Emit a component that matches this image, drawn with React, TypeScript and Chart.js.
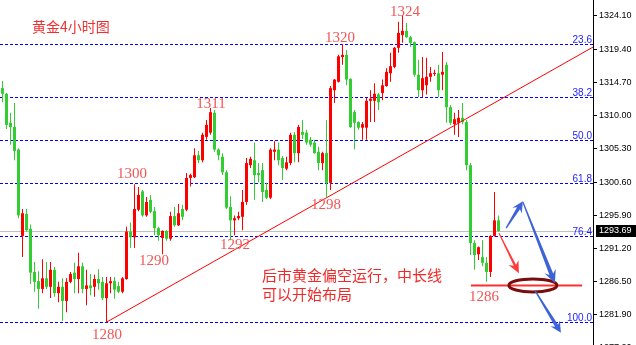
import React, { useEffect, useRef } from "react";
import { Chart, registerables } from "chart.js";

Chart.register(...registerables);

// Gold, 4-hour candles (oldest first)
const opens = [
  1313.9, 1313.1, 1309.0, 1308.4, 1305.2, 1293.0, 1296.1, 1294.0, 1287.9, 1286.6,
  1285.5, 1287.0, 1285.8, 1288.2, 1284.9, 1285.8, 1283.8, 1286.5, 1287.8, 1286.9,
  1288.7, 1285.5, 1286.0, 1285.8, 1286.9, 1286.5, 1284.2, 1286.3, 1286.6, 1285.9,
  1285.1, 1286.9, 1293.6, 1292.8, 1296.7, 1299.3, 1295.9, 1298.1, 1296.5, 1294.1,
  1292.7, 1293.7, 1292.6, 1295.8, 1294.5, 1296.8, 1296.7, 1301.2, 1301.3, 1304.4,
  1303.7, 1307.0, 1307.6, 1310.4, 1305.2, 1304.2, 1302.0, 1297.1, 1295.2, 1295.5,
  1295.7, 1297.8, 1303.0, 1303.7, 1301.9, 1302.3, 1299.5, 1298.4, 1304.9, 1305.2,
  1304.0, 1302.5, 1303.3, 1307.3, 1304.7, 1307.7, 1307.6, 1306.6, 1306.2, 1304.9,
  1303.3, 1304.7, 1300.5, 1313.6, 1314.8, 1318.3, 1318.6, 1315.2, 1310.5, 1309.1,
  1308.3, 1308.3, 1312.1, 1312.1, 1313.0, 1313.2, 1314.2, 1316.0, 1316.9, 1319.6,
  1321.4, 1322.0, 1321.1, 1320.4, 1315.8, 1313.6, 1314.3, 1315.5, 1315.9, 1316.0,
  1315.8, 1317.2, 1311.2, 1308.8, 1309.0, 1309.7, 1309.1, 1303.0, 1292.0, 1290.4,
  1290.0, 1289.2, 1287.9, 1293.0, 1295.2,
];
const highs = [
  1314.9, 1313.2, 1310.4, 1311.8, 1305.4, 1296.8, 1296.8, 1294.6, 1289.3, 1288.0,
  1289.7, 1289.3, 1289.3, 1288.6, 1286.5, 1287.0, 1287.0, 1287.9, 1289.2, 1290.6,
  1289.2, 1288.2, 1287.6, 1287.5, 1288.3, 1287.2, 1287.2, 1287.2, 1287.2, 1286.5,
  1287.2, 1294.3, 1294.9, 1300.3, 1299.9, 1299.5, 1298.5, 1298.8, 1297.1, 1294.3,
  1293.8, 1293.8, 1296.4, 1297.1, 1297.5, 1297.4, 1301.9, 1301.8, 1305.4, 1305.0,
  1307.6, 1309.4, 1311.1, 1310.8, 1305.4, 1304.7, 1302.3, 1298.6, 1295.9, 1296.4,
  1299.5, 1304.0, 1304.2, 1306.2, 1303.3, 1303.3, 1300.5, 1305.4, 1306.4, 1306.2,
  1304.3, 1304.2, 1307.6, 1307.7, 1308.7, 1309.4, 1308.0, 1307.0, 1306.6, 1305.6,
  1304.9, 1309.4, 1314.2, 1315.2, 1318.6, 1320.1, 1319.3, 1315.3, 1310.8, 1309.2,
  1309.1, 1312.5, 1313.6, 1314.6, 1313.2, 1315.1, 1316.7, 1318.9, 1319.7, 1323.3,
  1324.2, 1323.1, 1321.3, 1320.5, 1317.9, 1318.3, 1318.2, 1316.9, 1316.5, 1317.2,
  1319.0, 1317.6, 1311.5, 1310.4, 1310.8, 1311.8, 1309.4, 1303.3, 1292.4, 1291.5,
  1292.4, 1290.0, 1293.1, 1299.2, 1295.9,
];
const lows = [
  1311.9, 1308.1, 1305.9, 1303.7, 1295.5, 1290.0, 1293.6, 1286.2, 1285.1, 1282.7,
  1284.9, 1285.5, 1284.2, 1284.4, 1283.6, 1281.0, 1282.2, 1286.3, 1284.9, 1284.9,
  1284.9, 1283.2, 1284.6, 1284.4, 1285.4, 1283.9, 1280.8, 1284.9, 1284.1, 1284.9,
  1284.9, 1286.8, 1291.3, 1291.3, 1296.5, 1295.7, 1295.7, 1296.2, 1293.1, 1292.3,
  1290.4, 1292.3, 1292.3, 1294.3, 1294.4, 1295.2, 1296.5, 1300.0, 1301.2, 1303.3,
  1303.4, 1306.6, 1307.3, 1304.9, 1303.7, 1301.6, 1296.8, 1292.4, 1293.1, 1295.2,
  1293.8, 1297.4, 1302.6, 1298.1, 1300.6, 1297.8, 1298.2, 1298.2, 1303.7, 1303.0,
  1300.9, 1302.3, 1303.0, 1303.4, 1303.4, 1306.7, 1305.9, 1305.6, 1304.6, 1302.3,
  1302.3, 1298.5, 1299.5, 1311.8, 1314.7, 1317.2, 1314.3, 1308.3, 1305.2, 1308.0,
  1306.6, 1306.6, 1309.1, 1309.1, 1310.8, 1312.2, 1314.1, 1314.8, 1316.7, 1318.9,
  1320.3, 1321.0, 1319.7, 1315.5, 1312.6, 1312.6, 1313.0, 1314.8, 1315.6, 1312.6,
  1313.6, 1309.0, 1308.7, 1307.3, 1307.0, 1308.8, 1302.3, 1290.3, 1288.2, 1289.6,
  1288.7, 1286.5, 1287.2, 1292.9, 1293.6,
];
const closes = [
  1313.1, 1308.7, 1308.4, 1305.0, 1295.9, 1296.2, 1293.8, 1287.8, 1286.5, 1285.5,
  1287.0, 1285.8, 1288.2, 1284.9, 1285.8, 1283.8, 1286.5, 1287.6, 1286.9, 1288.7,
  1285.5, 1286.0, 1285.6, 1286.9, 1286.3, 1284.2, 1286.3, 1286.6, 1285.4, 1285.1,
  1287.0, 1293.6, 1292.8, 1296.8, 1298.8, 1295.9, 1297.8, 1296.4, 1294.1, 1293.1,
  1293.7, 1292.6, 1295.8, 1294.5, 1296.2, 1295.7, 1301.2, 1301.6, 1304.4, 1303.7,
  1307.3, 1308.7, 1310.5, 1305.2, 1304.4, 1302.0, 1297.0, 1295.2, 1295.5, 1295.8,
  1297.8, 1303.3, 1303.9, 1301.6, 1301.6, 1299.2, 1298.4, 1305.2, 1305.2, 1303.7,
  1302.6, 1303.4, 1307.3, 1304.7, 1308.4, 1307.3, 1306.2, 1305.9, 1304.7, 1303.3,
  1304.7, 1300.5, 1313.9, 1315.1, 1318.4, 1318.6, 1315.1, 1308.4, 1309.0, 1308.3,
  1308.8, 1312.1, 1312.4, 1313.1, 1311.9, 1314.3, 1316.2, 1317.0, 1319.6, 1321.7,
  1322.0, 1321.1, 1320.3, 1315.8, 1313.6, 1315.3, 1315.5, 1316.0, 1316.0, 1313.6,
  1316.2, 1311.2, 1309.0, 1309.5, 1309.7, 1309.1, 1303.0, 1292.0, 1290.3, 1291.4,
  1289.2, 1287.9, 1293.0, 1295.2, 1293.69,
];

// Price axis
const priceTicks = [1324.1, 1319.4, 1314.7, 1310.0, 1305.3, 1300.6, 1295.9, 1291.2, 1286.5, 1281.9, 1277.2];
const priceMin = 1277.57;
const priceMax = 1326.36;
const lastPrice = 1293.69;

// Fibonacci retracement
const fibTop = 1332.3;
const fibBottom = 1280.8;
const fibLevels = [23.6, 38.2, 50.0, 61.8, 76.4, 100.0];

// Rising trend line (bar index, price)
const trendStart = { x: 26, y: 1280.8 };
const trendEnd = { x: 147.625, y: 1319.7 };

// Support target
const supportPrice = 1286;
const supportFromBar = 117.1;
const supportToBar = 144.9;

// Swing highs / lows that get a price tag
const swingTags = [
  { bar: 100, at: "high", dx: 2.5, dy: -3 },
  { bar: 85, at: "high", dx: -2.5, dy: -6 },
  { bar: 52, at: "high", dx: 0.5, dy: -4 },
  { bar: 33, at: "high", dx: -2.5, dy: -10 },
  { bar: 26, at: "low", dx: 0.5, dy: 13 },
  { bar: 40, at: "low", dx: -8.5, dy: 7 },
  { bar: 57, at: "low", dx: 4.5, dy: 5 },
  { bar: 81, at: "low", dx: -0.5, dy: 8 },
  { bar: 121, at: "low", dx: -2.5, dy: 15 },
];

// Scenario arrows (bar index, price)
const scenarioArrows = [
  { from: [124.1, 1293.4], to: [129.1, 1287.7], color: "#ff3a3a", tail: 1, shaft: 2.5, head: 12, half: 5.5 },
  { from: [125.9, 1294.1], to: [130.1, 1297.9], color: "#3d63d6", tail: 1.2, shaft: 3.5, head: 11, half: 5.5 },
  { from: [130.1, 1297.8], to: [138.1, 1286.3], color: "#3d63d6", tail: 1.2, shaft: 4, head: 13, half: 6 },
  { from: [133.1, 1285.3], to: [139.6, 1279.3], color: "#3d63d6", tail: 1.2, shaft: 3.5, head: 11, half: 5.5 },
];
const targetRing = { bar: 132.6, price: 1286.0 };

const chartTitle = "黄金4小时图";
const noteLines = ["后市黄金偏空运行，中长线", "可以开始布局"];

const UP = "#ff0000";
const DOWN = "#32cd32";

function drawArrow(
  ctx: CanvasRenderingContext2D,
  x1: number, y1: number, x2: number, y2: number,
  color: string, tail: number, shaft: number, head: number, half: number
) {
  const ang = Math.atan2(y2 - y1, x2 - x1);
  const len = Math.hypot(x2 - x1, y2 - y1);
  ctx.save();
  ctx.translate(x1, y1);
  ctx.rotate(ang);
  ctx.beginPath();
  ctx.moveTo(0, -tail / 2);
  ctx.lineTo(len - head * 0.75, -shaft / 2);
  ctx.lineTo(len - head, -half);
  ctx.lineTo(len, 0);
  ctx.lineTo(len - head, half);
  ctx.lineTo(len - head * 0.75, shaft / 2);
  ctx.lineTo(0, tail / 2);
  ctx.closePath();
  ctx.fillStyle = color;
  ctx.fill();
  ctx.restore();
}

const overlayPlugin = {
  id: "overlay",
  beforeDatasetsDraw(chart: any) {
    const { ctx, chartArea, scales } = chart;
    const y = scales.y;
    ctx.save();
    // last price line
    const lp = Math.round(y.getPixelForValue(lastPrice)) + 0.5;
    ctx.strokeStyle = "#c0c0c0";
    ctx.lineWidth = 1;
    ctx.beginPath();
    ctx.moveTo(chartArea.left, lp);
    ctx.lineTo(chartArea.right, lp);
    ctx.stroke();

    // fibonacci levels
    ctx.font = '10px "Liberation Sans"';
    ctx.textAlign = "right";
    ctx.textBaseline = "alphabetic";
    fibLevels.forEach((lvl) => {
      const price = fibTop - (lvl / 100) * (fibTop - fibBottom);
      const py = Math.round(y.getPixelForValue(price)) + 0.5;
      ctx.setLineDash([3, 2]);
      ctx.strokeStyle = "#0000ff";
      ctx.beginPath();
      ctx.moveTo(chartArea.left, py);
      ctx.lineTo(chartArea.right, py);
      ctx.stroke();
      ctx.setLineDash([]);
      ctx.fillStyle = "#1c1cff";
      ctx.fillText(lvl.toFixed(1), chartArea.right - 1, py - 2);
    });
    ctx.restore();
  },
  afterDatasetsDraw(chart: any) {
    const { ctx, scales } = chart;
    const x = scales.x;
    const y = scales.y;
    ctx.save();

    // swing price tags
    ctx.font = '15px "Liberation Serif"';
    ctx.textAlign = "center";
    ctx.textBaseline = "middle";
    ctx.fillStyle = "rgb(242,86,86)";
    swingTags.forEach((t) => {
      const v = t.at === "high" ? highs[t.bar] : lows[t.bar];
      const px = x.getPixelForValue(t.bar) + t.dx;
      const py = y.getPixelForValue(v) + t.dy;
      ctx.fillText(String(Math.floor(v)), px, py);
    });

    // title
    ctx.font = '14px "Noto Sans CJK SC"';
    ctx.textAlign = "left";
    ctx.fillStyle = "#f03030";
    ctx.fillText(chartTitle, 32, 27);

    // comment
    ctx.font = '15px "Noto Sans CJK SC"';
    ctx.fillStyle = "#f02828";
    noteLines.forEach((line, i) => ctx.fillText(line, 262, 275 + i * 19));

    // support line
    const sy = y.getPixelForValue(supportPrice);
    ctx.strokeStyle = "#ff3030";
    ctx.lineWidth = 2;
    ctx.beginPath();
    ctx.moveTo(x.getPixelForValue(supportFromBar), sy);
    ctx.lineTo(x.getPixelForValue(supportToBar), sy);
    ctx.stroke();

    // target ring
    ctx.strokeStyle = "#7a0c0c";
    ctx.lineWidth = 3;
    ctx.beginPath();
    ctx.ellipse(x.getPixelForValue(targetRing.bar), y.getPixelForValue(targetRing.price), 24, 6.5, 0, 0, Math.PI * 2);
    ctx.stroke();

    // scenario arrows
    scenarioArrows.forEach((a) => {
      drawArrow(
        ctx,
        x.getPixelForValue(a.from[0]), y.getPixelForValue(a.from[1]),
        x.getPixelForValue(a.to[0]), y.getPixelForValue(a.to[1]),
        a.color, a.tail, a.shaft, a.head, a.half
      );
    });
    ctx.restore();
  },
  afterDraw(chart: any) {
    const { ctx, chartArea, scales } = chart;
    const py = scales.y.getPixelForValue(lastPrice);
    ctx.save();
    ctx.fillStyle = "#000";
    ctx.fillRect(chartArea.right + 3, Math.round(py) - 6, 43, 12);
    ctx.fillStyle = "#fff";
    ctx.font = '9px "Liberation Sans"';
    ctx.textAlign = "left";
    ctx.textBaseline = "middle";
    ctx.fillText(lastPrice.toFixed(2), chartArea.right + 6, Math.round(py));
    ctx.restore();
  },
};

export default function App() {
  const canvasRef = useRef<HTMLCanvasElement>(null);

  useEffect(() => {
    const bars = opens.map((_, i) => i);
    const colors = bars.map((i) => (closes[i] >= opens[i] ? UP : DOWN));

    const chart = new Chart(canvasRef.current!, {
      type: "bar",
      data: {
        datasets: [
          {
            type: "line",
            data: [trendStart, trendEnd],
            borderColor: "#ff0000",
            borderWidth: 1,
            pointRadius: 0,
            order: 0,
          } as any,
          {
            data: bars.map((i) => ({ x: i, y: [opens[i], closes[i]] })),
            backgroundColor: colors,
            barThickness: 3,
            minBarLength: 1,
            grouped: false,
            borderWidth: 0,
            inflateAmount: 0,
            order: 1,
          } as any,
          {
            data: bars.map((i) => ({ x: i, y: [lows[i], highs[i]] })),
            backgroundColor: colors,
            barThickness: 1,
            grouped: false,
            borderWidth: 0,
            inflateAmount: 0,
            order: 2,
          } as any,
        ],
      },
      options: {
        animation: false,
        responsive: false,
        devicePixelRatio: 1,
        layout: { padding: 0 },
        plugins: { legend: { display: false }, tooltip: { enabled: false } },
        scales: {
          x: {
            type: "linear",
            display: false,
            offset: false,
            min: -0.625,
            max: 147.625,
          },
          y: {
            position: "right",
            min: priceMin,
            max: priceMax,
            afterBuildTicks: (s: any) => {
              s.ticks = priceTicks.map((v) => ({ value: v }));
            },
            afterFit: (s: any) => {
              s.width = 43;
              s.paddingTop = 0;
              s.paddingBottom = 0;
            },
            grid: {
              display: true,
              drawOnChartArea: false,
              drawTicks: true,
              tickLength: 4,
              color: "#000",
              tickColor: "#000",
            },
            border: { display: true, color: "#000", width: 1 },
            ticks: {
              autoSkip: false,
              padding: 2,
              color: "#000",
              font: { family: "Liberation Sans", size: 9 },
              callback: (v: any) => Number(v).toFixed(2),
            },
          },
        },
      } as any,
      plugins: [overlayPlugin],
    });
    return () => chart.destroy();
  }, []);

  return (
    <div style={{ position: "absolute", left: 0, top: 0, width: 636, height: 345, background: "#fff" }}>
      <canvas ref={canvasRef} width={636} height={345} style={{ display: "block", width: 636, height: 345 }} />
    </div>
  );
}
